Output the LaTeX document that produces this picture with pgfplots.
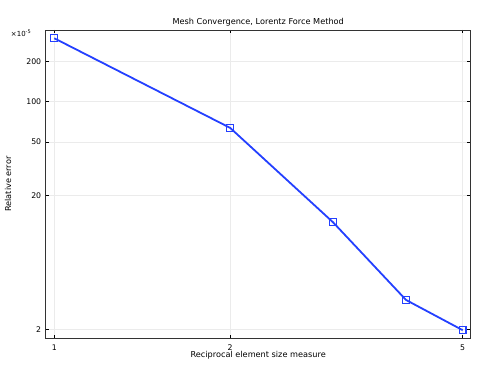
\documentclass[border=0pt]{standalone}
\usepackage{fontspec}
\setmainfont{DejaVu Sans}
\usepackage{pgfplots}
\pgfplotsset{compat=1.18}
\definecolor{lineblue}{RGB}{36,64,255}
\begin{document}
\begin{tikzpicture}[x=1bp,y=1bp]
\path[use as bounding box] (-45.7,-30.7) rectangle (434.3,338.3);
\begin{axis}[
  at={(0,0)}, anchor=south west,
  scale only axis,
  width=425bp, height=308.3bp,
  xmode=log, ymode=log,
  xmin=0.9667, xmax=5.161,
  ymin=1.713, ymax=342.4,
  xtick={1,2,5}, xticklabels={1,2,5},
  ytick={2,20,50,100,200}, yticklabels={2,20,50,100,200},
  minor xtick={}, minor ytick={},
  log basis x=10, log basis y=10,
  grid=major,
  major grid style={draw=black!8, line width=0.7pt},
  tick align=inside,
  major tick length=3.5bp,
  tick style={black, line width=0.7pt},
  axis line style={black!80, line width=0.9pt},
  ticklabel style={font=\fontsize{7.8}{9}\selectfont},
  /pgf/number format/assume math mode=true,
  xticklabel style={yshift=-3bp},
  yticklabel style={xshift=-1bp},
  title={Mesh Convergence, Lorentz Force Method},
  title style={font=\fontsize{8.2}{9}\selectfont, at={(rel axis cs:0.5,1)}, anchor=center, yshift=2bp},
  xlabel={Reciprocal element size measure},
  xlabel style={font=\fontsize{8.2}{9}\selectfont, at={(rel axis cs:0.5,0)}, anchor=center, yshift=-17bp},
  ylabel={Relative error},
  ylabel style={font=\fontsize{8.2}{9}\selectfont, at={(rel axis cs:0,0.5)}, anchor=center, yshift=37.7bp},
  clip=false,
]
\addplot[color=lineblue, line width=1.8bp, mark=square, mark size=3.4bp,
  mark options={line width=1.2bp, fill=none}]
  coordinates {(1,297) (2,63.7) (3,12.58) (4,3.31) (5,1.97)};
\node[font=\fontsize{7}{8}\selectfont, anchor=east] at (rel axis cs:0,1) [xshift=-11bp, yshift=-3bp] {×10\textsuperscript{-5}};
\end{axis}
\end{tikzpicture}
\end{document}
